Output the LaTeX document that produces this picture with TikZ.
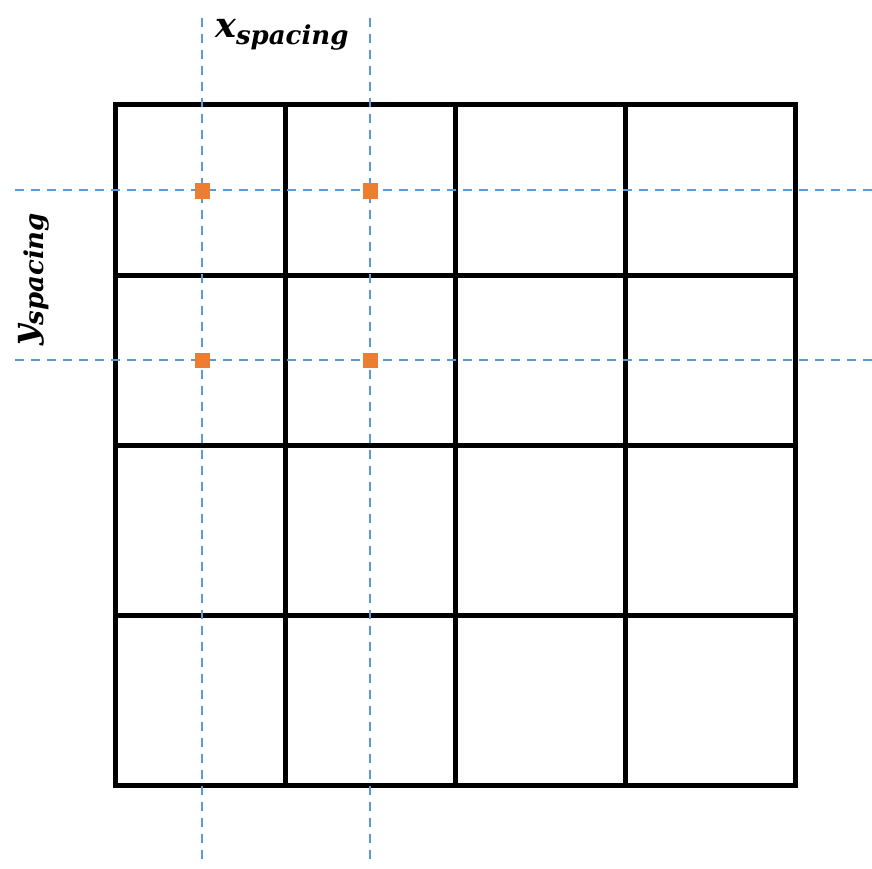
\documentclass[tikz,border=0pt]{standalone}
\usepackage{fontspec}
\newfontfamily\lblfont{DejaVu Serif}
\definecolor{gridblue}{RGB}{91,155,213}
\definecolor{dotorange}{RGB}{237,125,49}
\tikzset{
  gridline/.style={line width=5pt, black, line cap=rect},
  guide/.style={gridblue, line width=1.6pt, dash pattern=on 9pt off 7pt},
  dotbox/.style={fill=dotorange, draw=none, minimum size=15pt, inner sep=0pt, rectangle},
  lbl/.style={font=\lblfont\bfseries\itshape, inner sep=0pt}
}
\begin{document}
\begin{tikzpicture}[x=1pt,y=-1pt]
\useasboundingbox (0,0) rectangle (872,869);
% grid
\foreach \i/\v in {0/115,1/285,2/455,3/625,4/795}{
  \coordinate (t\i) at (\v,105);
  \coordinate (b\i) at (\v,785);
  \coordinate (l\i) at (115,\v-10);
  \coordinate (r\i) at (795,\v-10);
}
\foreach \i in {0,...,4}{
  \draw[gridline] (t\i) -- (b\i);
  \draw[gridline] (l\i) -- (r\i);
}
% guides
\coordinate (v1t) at (202,18);
\coordinate (v1b) at (202,866);
\coordinate (v2t) at (370,18);
\coordinate (v2b) at (370,866);
\coordinate (h1l) at (15,190);
\coordinate (h1r) at (872,190);
\coordinate (h2l) at (15,360);
\coordinate (h2r) at (872,360);
\draw[guide] (v1t) -- (v1b);
\draw[guide] (v2t) -- (v2b);
\draw[guide] (h1l) -- (h1r);
\draw[guide] (h2l) -- (h2r);
% points
\node[dotbox] (p11) at (202,191) {};
\node[dotbox] (p21) at (370,191) {};
\node[dotbox] (p12) at (202,360) {};
\node[dotbox] (p22) at (370,360) {};
% labels
\node[lbl, anchor=base west] (xs) at (215,38) {\fontsize{35}{38}\selectfont x\raisebox{-7pt}{\fontsize{26}{30}\selectfont spacing}};
\node[lbl, anchor=base west, rotate=90] (ys) at (36,346) {\fontsize{35}{38}\selectfont y\raisebox{-7pt}{\fontsize{26}{30}\selectfont spacing}};
\end{tikzpicture}
\end{document}
